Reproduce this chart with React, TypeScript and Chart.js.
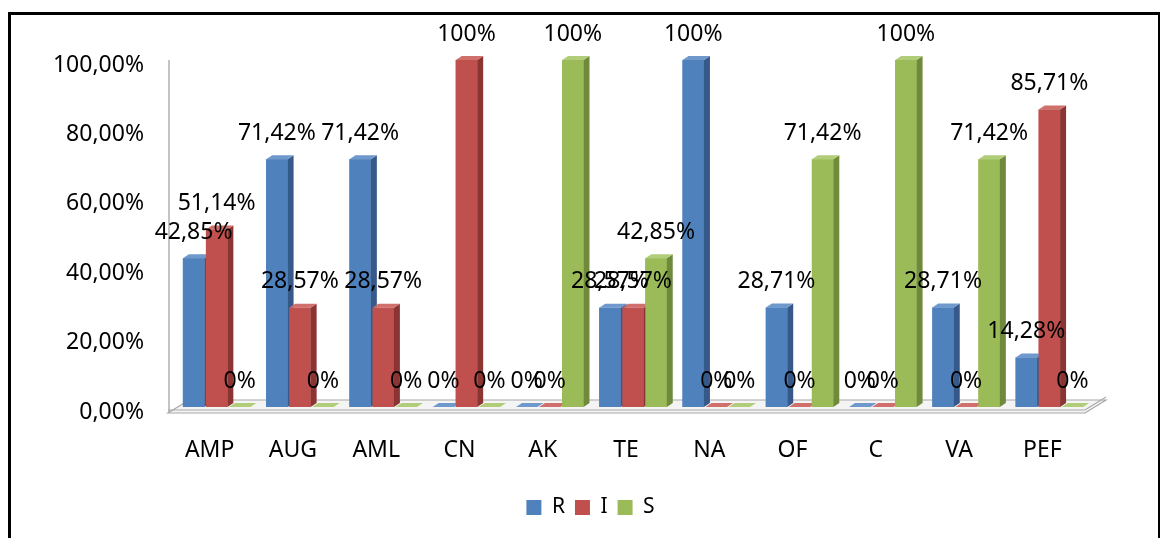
import React, { useEffect, useRef } from "react";
import { Chart, registerables } from "chart.js";

Chart.register(...registerables);

const categories = ["AMP", "AUG", "AML", "CN", "AK", "TE", "NA", "OF", "C", "VA", "PEF"];
const seriesNames = ["R", "I", "S"];
const valuesR = [42.85, 71.42, 71.42, 0, 0, 28.57, 100, 28.71, 0, 28.71, 14.28];
const valuesI = [51.14, 28.57, 28.57, 100, 0, 28.57, 0, 0, 0, 0, 85.71];
const valuesS = [0, 0, 0, 0, 100, 42.85, 0, 71.42, 100, 71.42, 0];
const yMin = 0;
const yMax = 100;
const yStep = 20;

const frontColors = ["#4F81BD", "#C0504D", "#9BBB59"];
const sideColors = ["#37598A", "#8A3533", "#6E8A3A"];
const topColors = ["#6F98CC", "#D0706D", "#B2CD7A"];

const FONT = "'Noto Sans', 'Open Sans', sans-serif";

const fmtPct = (v: number) =>
  Number.isInteger(v) ? `${v}%` : `${v.toFixed(2).replace(".", ",")}%`;

const DX = 6;
const DY = 4;

const floorPlugin = {
  id: "floor3d",
  beforeDatasetsDraw(chart: any) {
    const { ctx, chartArea } = chart;
    const yScale = chart.scales.y;
    const base = yScale.getPixelForValue(0);
    const top = yScale.getPixelForValue(100);
    const l = chartArea.left - 7;
    const r = chartArea.right - 6;
    const fy = base + 6;
    const fdx = 21;
    const fdy = 13;
    ctx.save();
    ctx.strokeStyle = "#B0B0B0";
    ctx.lineWidth = 1.5;
    ctx.beginPath();
    ctx.moveTo(l + 1, top);
    ctx.lineTo(l + 1, fy);
    ctx.stroke();
    ctx.fillStyle = "#F4F4F4";
    ctx.strokeStyle = "#A8A8A8";
    ctx.lineWidth = 1.2;
    ctx.beginPath();
    ctx.moveTo(l, fy);
    ctx.lineTo(r, fy);
    ctx.lineTo(r + fdx, fy - fdy);
    ctx.lineTo(l + fdx, fy - fdy);
    ctx.closePath();
    ctx.fill();
    ctx.stroke();
    ctx.beginPath();
    ctx.moveTo(l, fy - 3);
    ctx.lineTo(r, fy - 3);
    ctx.lineTo(r + fdx, fy - fdy - 3);
    ctx.stroke();
    ctx.restore();
  },
};

// Redraws bars series by series (R, I, S) so that each front face covers the
// side face of its left neighbour, and adds the 3D side and top faces.
const bar3dPlugin = {
  id: "bar3d",
  afterDatasetsDraw(chart: any) {
    const { ctx } = chart;
    ctx.save();
    chart.data.datasets.forEach((_ds: any, di: number) => {
      const meta = chart.getDatasetMeta(di);
      meta.data.forEach((el: any) => {
        el.draw(ctx);
        const { x, y, base, width } = el.getProps(["x", "y", "base", "width"], true);
        const xl = x - width / 2;
        const xr = x + width / 2;
        ctx.fillStyle = sideColors[di];
        ctx.beginPath();
        ctx.moveTo(xr, y);
        ctx.lineTo(xr + DX, y - DY);
        ctx.lineTo(xr + DX, base - DY);
        ctx.lineTo(xr, base);
        ctx.closePath();
        ctx.fill();
        ctx.fillStyle = topColors[di];
        ctx.beginPath();
        ctx.moveTo(xl, y);
        ctx.lineTo(xl + DX, y - DY);
        ctx.lineTo(xr + DX, y - DY);
        ctx.lineTo(xr, y);
        ctx.closePath();
        ctx.fill();
      });
    });
    ctx.restore();
  },
};

const labelPlugin = {
  id: "valueLabels",
  afterDatasetsDraw(chart: any) {
    const { ctx } = chart;
    ctx.save();
    ctx.font = `23px ${FONT}`;
    ctx.fillStyle = "#000";
    ctx.textAlign = "center";
    ctx.textBaseline = "middle";
    chart.data.datasets.forEach((ds: any, di: number) => {
      const meta = chart.getDatasetMeta(di);
      meta.data.forEach((el: any, i: number) => {
        ctx.fillText(fmtPct(ds.data[i]), el.x, el.y - 26);
      });
    });
    ctx.restore();
  },
};

export default function App() {
  const ref = useRef<HTMLCanvasElement>(null);

  useEffect(() => {
    if (!ref.current) return;
    const seriesValues = [valuesR, valuesI, valuesS];
    const chart = new Chart(ref.current, {
      type: "bar",
      data: {
        labels: categories,
        datasets: seriesNames.map((name, i) => ({
          label: name,
          data: seriesValues[i],
          backgroundColor: frontColors[i],
          borderWidth: 0,
          categoryPercentage: 0.83,
          barPercentage: 0.93,
        })),
      },
      options: {
        responsive: false,
        animation: false,
        events: [],
        layout: { padding: { top: 45, left: 12, right: 0, bottom: 10 } },
        plugins: {
          legend: {
            position: "bottom",
            labels: {
              boxWidth: 15,
              boxHeight: 15,
              padding: 10,
              color: "#000",
              font: { size: 21, family: FONT },
            },
          },
          tooltip: { enabled: false },
        },
        scales: {
          x: {
            grid: { display: false, drawTicks: false },
            border: { display: false },
            ticks: {
              color: "#000",
              font: { size: 23, family: FONT },
              padding: 30,
              labelOffset: -7,
            },
            afterFit: (s: any) => {
              s.height = 80;
            },
          },
          y: {
            min: yMin,
            max: yMax,
            grid: { display: false, drawTicks: false },
            border: { display: false },
            ticks: {
              stepSize: yStep,
              color: "#000",
              font: { size: 23, family: FONT },
              padding: 31,
              labelOffset: 5,
              callback: (v: any) => `${Number(v).toFixed(2).replace(".", ",")}%`,
            },
            afterFit: (s: any) => {
              s.width = 152;
            },
          },
          yRightSpace: {
            position: "right",
            display: true,
            min: yMin,
            max: yMax,
            grid: { display: false, drawTicks: false },
            border: { display: false },
            ticks: { display: false },
            afterFit: (s: any) => {
              s.width = 67;
            },
          },
        },
      },
      plugins: [floorPlugin, bar3dPlugin, labelPlugin],
    });
    return () => chart.destroy();
  }, []);

  return (
    <div
      style={{
        position: "fixed",
        left: 8,
        top: 12,
        width: 1147,
        height: 560,
        borderTop: "3px solid #000",
        borderLeft: "3px solid #000",
        borderRight: "2px solid #000",
        background: "#fff",
      }}
    >
      <canvas ref={ref} width={1147} height={523} style={{ display: "block", width: 1147, height: 523 }} />
    </div>
  );
}
